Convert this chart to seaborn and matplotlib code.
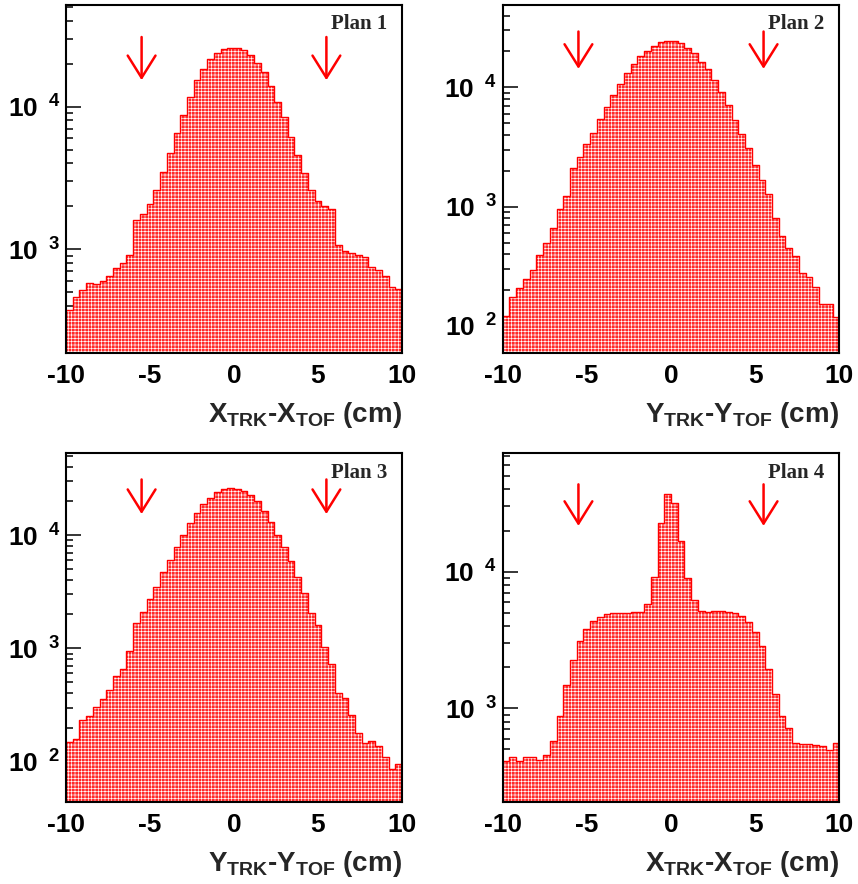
import numpy as np
import pandas as pd
import matplotlib
matplotlib.use("Agg")
import matplotlib.pyplot as plt
import matplotlib.transforms as mtransforms
from matplotlib.ticker import MultipleLocator, LogLocator, FuncFormatter, NullFormatter
import seaborn as sns

sns.set_style("white")
plt.rcParams["font.family"] = ["Liberation Sans", "DejaVu Sans"]
plt.rcParams["font.weight"] = "bold"
plt.rcParams["axes.unicode_minus"] = False
plt.rcParams["mathtext.fontset"] = "custom"
plt.rcParams["mathtext.rm"] = "Liberation Sans:bold"
plt.rcParams["mathtext.bf"] = "Liberation Sans:bold"
plt.rcParams["mathtext.it"] = "Liberation Sans:bold"
plt.rcParams["hatch.linewidth"] = 0.45

# ---------------- data ----------------
x_low, x_high, n_bins = -10.0, 10.0, 50

plan1_counts = [376, 466, 519, 578, 571, 600, 650, 744, 798, 912,
                1606, 1770, 2080, 2606, 3467, 4710, 6505, 8745, 11750, 15380,
                18370, 21700, 23650, 25370, 25920, 25640, 24950, 23020, 20120, 17590,
                13960, 10840, 8415, 6095, 4560, 3410, 2606, 2182, 2024, 1907,
                1072, 973, 937, 908, 879, 756, 716, 650, 547, 527]

plan2_counts = [121, 176, 207, 246, 294, 391, 499, 667, 950, 1228,
                2096, 2590, 3350, 4170, 5430, 6890, 8630, 10660, 13100, 15700,
                18320, 20280, 22200, 24150, 24600, 24280, 23370, 21230, 19270, 16410,
                14160, 11520, 9200, 7110, 5320, 4060, 3080, 2235, 1673, 1277,
                809, 568, 448, 386, 280, 256, 211, 152, 153, 118]

plan3_counts = [148, 157, 233, 253, 306, 355, 429, 570, 653, 941,
                1684, 2078, 2706, 3476, 4685, 6020, 7785, 10070, 12680, 15740,
                18650, 21350, 23790, 25630, 26160, 25630, 24610, 22540, 19820, 16290,
                13110, 10070, 7785, 5940, 4290, 3057, 2064, 1596, 1034, 727,
                401, 362, 256, 178, 147, 153, 137, 111, 86, 95]

plan4_counts = [414, 443, 412, 438, 438, 419, 456, 580, 879, 1482,
                2258, 3090, 3785, 4330, 4685, 4900, 5010, 4955, 4980, 5040,
                5070, 5800, 9190, 22590, 37000, 31990, 16760, 9040, 6205, 5185,
                5095, 5120, 5185, 5095, 5010, 4765, 4305, 3600, 2858, 1951,
                1274, 874, 714, 555, 546, 548, 536, 530, 495, 555]

panel_titles = ["Plan 1", "Plan 2", "Plan 3", "Plan 4"]
x_labels = [r"X$_{\mathbf{TRK}}$-X$_{\mathbf{TOF}}$ (cm)",
            r"Y$_{\mathbf{TRK}}$-Y$_{\mathbf{TOF}}$ (cm)",
            r"Y$_{\mathbf{TRK}}$-Y$_{\mathbf{TOF}}$ (cm)",
            r"X$_{\mathbf{TRK}}$-X$_{\mathbf{TOF}}$ (cm)"]
cut_positions = [-5.5, 5.5]

# ---------------- layout / style ----------------
y_limits = [(187.5, 51600), (59, 49300), (43.8, 52600), (205, 73500)]
arrow_y = [(0.908, 0.784), (0.923, 0.816), (0.925, 0.826), (0.911, 0.792)]
W, H = 858, 884
boxes_px = [(66, 5, 402, 353), (502.7, 4.7, 839.3, 353.3),
            (66, 453.3, 402, 802.3), (502.7, 453.3, 839.3, 802.3)]
fill_color = "#ff2a2a"
line_color = "#ff0000"

fig = plt.figure(figsize=(W / 100, H / 100), dpi=100)
fig.patch.set_facecolor("white")

bin_width = (x_high - x_low) / n_bins
centers = [x_low + bin_width * (k + 0.5) for k in range(n_bins)]
all_counts = [plan1_counts, plan2_counts, plan3_counts, plan4_counts]


def y_fmt(v, pos):
    e = int(round(np.log10(v)))
    return r"$\mathbf{10}^{\ \ \mathbf{%d}}$" % e


for i, counts in enumerate(all_counts):
    l, t, r, b = boxes_px[i]
    ax = fig.add_axes([l / W, 1 - b / H, (r - l) / W, (b - t) / H])
    df = pd.DataFrame({"x": centers, "n": counts})
    # red fill with white cross-hatch texture (ROOT-like pattern fill)
    sns.histplot(data=df, x="x", weights="n", bins=n_bins,
                 binrange=(x_low, x_high), element="step",
                 fill=True, color=fill_color, edgecolor="white",
                 linewidth=0, alpha=1.0, hatch="+++++", ax=ax)
    # red step outline
    sns.histplot(data=df, x="x", weights="n", bins=n_bins,
                 binrange=(x_low, x_high), element="step",
                 fill=False, color=line_color, linewidth=1.0, ax=ax)
    ax.set_yscale("log")
    ax.set_xlim(x_low, x_high)
    ax.set_ylim(*y_limits[i])
    ax.set_ylabel("")
    ax.set_facecolor("white")

    for s in ax.spines.values():
        s.set_visible(True)
        s.set_color("black")
        s.set_linewidth(1.5)
        s.set_zorder(5)

    ax.xaxis.set_major_locator(MultipleLocator(5))
    ax.xaxis.set_minor_locator(MultipleLocator(1))
    ax.yaxis.set_major_locator(LogLocator(base=10, numticks=10))
    ax.yaxis.set_minor_locator(LogLocator(base=10, subs=np.arange(2, 10), numticks=40))
    ax.yaxis.set_minor_formatter(NullFormatter())
    ax.yaxis.set_major_formatter(FuncFormatter(y_fmt))
    ax.tick_params(axis="both", which="both", direction="in", top=False,
                   right=False, left=True, bottom=True, color="black",
                   labelcolor="black")
    ax.tick_params(axis="x", which="major", length=9.5, width=1.1, pad=8,
                   labelsize=19)
    ax.tick_params(axis="x", which="minor", length=4.8, width=1.1)
    ax.tick_params(axis="y", which="major", length=10.8, width=1.1, pad=4,
                   labelsize=19)
    ax.tick_params(axis="y", which="minor", length=4.8, width=1.1)

    ax.set_xlabel(x_labels[i], fontsize=20, fontweight="bold", loc="right")
    ax.xaxis.set_label_coords(1.0, -0.135)

    ax.text(0.955, 0.93, panel_titles[i], transform=ax.transAxes,
            ha="right", va="baseline", fontsize=15, fontweight="bold",
            family=["Liberation Serif", "DejaVu Serif"])

    trans = mtransforms.blended_transform_factory(ax.transData, ax.transAxes)
    y0, y1 = arrow_y[i]
    for xc in cut_positions:
        ax.annotate("", xy=(xc, y1), xytext=(xc, y0), xycoords=trans,
                    textcoords=trans,
                    arrowprops=dict(arrowstyle="->,head_length=0.8,head_width=0.5",
                                    color="red", lw=1.8, shrinkA=0, shrinkB=0,
                                    mutation_scale=20))

fig.savefig("out.png", dpi=100, facecolor="white")
